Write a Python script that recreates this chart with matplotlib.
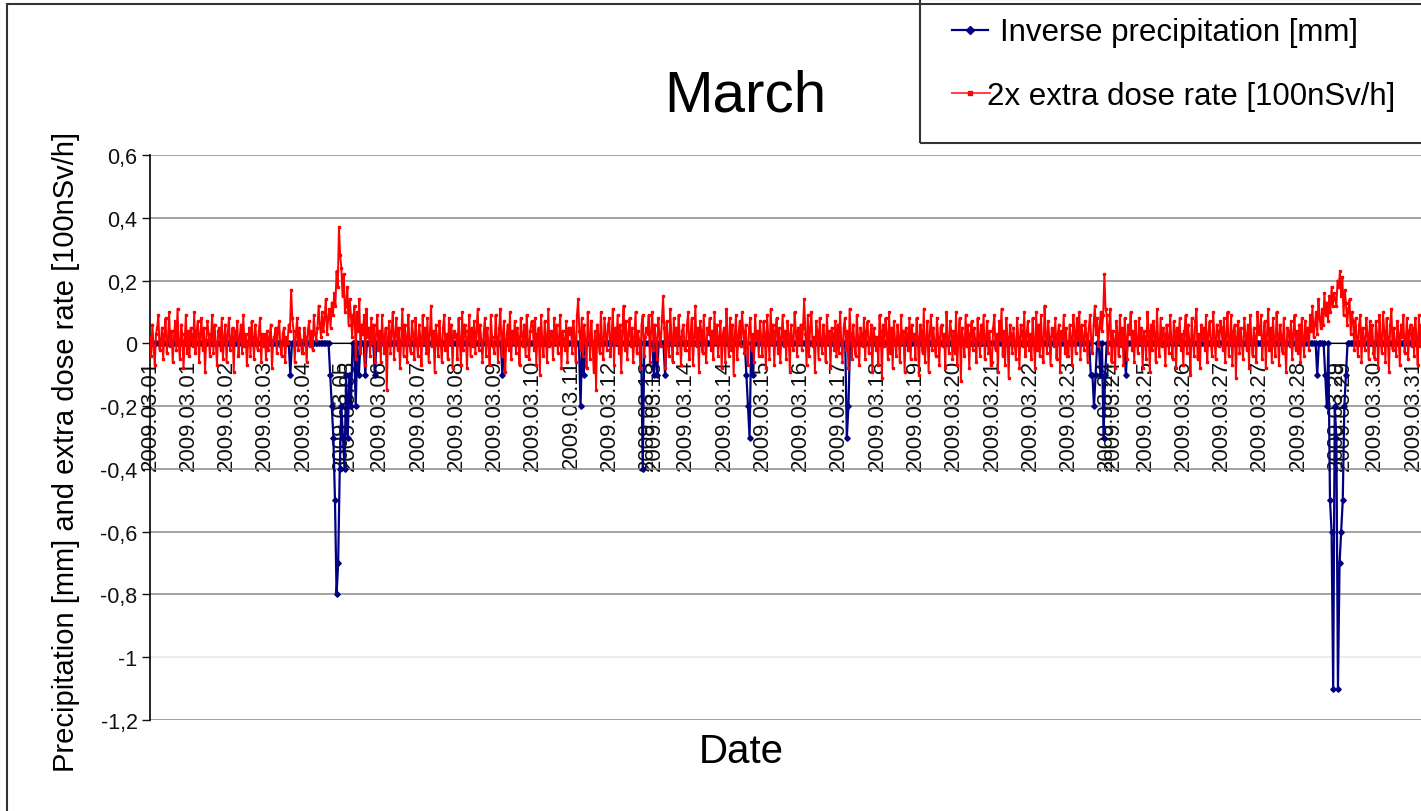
import numpy as np
import matplotlib.pyplot as plt
from matplotlib.patches import Rectangle
from matplotlib.lines import Line2D
from matplotlib.ticker import FuncFormatter

plt.rcParams['font.family'] = ['Liberation Sans', 'DejaVu Sans']

W, H = 1421, 812

# category labels on the x axis (one every 24 h of precipitation data)
date_labels = ["2009.03.01", "2009.03.01", "2009.03.02", "2009.03.03", "2009.03.04",
               "2009.03.05", "2009.03.06", "2009.03.07", "2009.03.08", "2009.03.09",
               "2009.03.10", "2009.03.11", "2009.03.12", "2009.03.13", "2009.03.14",
               "2009.03.14", "2009.03.15", "2009.03.16", "2009.03.17", "2009.03.18",
               "2009.03.19", "2009.03.20", "2009.03.21", "2009.03.22", "2009.03.23",
               "2009.03.24", "2009.03.25", "2009.03.26", "2009.03.27", "2009.03.27",
               "2009.03.28", "2009.03.29", "2009.03.30", "2009.03.31"]
# labels that show up twice, slightly shifted
double_labels = [5, 13, 25, 31]

# 2x extra dose rate, hundredths of 100nSv/h, one row per label slot
dose_rate_cents = [
    [2, -4, 6, -1, -7, 3, 5, 9, -2, 0, 5, -5, 3, 8, -3, 1, 10, -1, 4, -6, 2, 7, -2, 11, 0, -5, 6, 3, -8, 1, 9, -3],
    [4, -4, 5, 2, -1, 10, -3, 4, 7, -6, 3, 8, -2, 5, -9, 1, 7, 3, -4, 2, 9, -3, 6, 0, -7, 4, 5, -2, 8, -5, 2, 6],
    [-6, 3, 8, -2, 1, 5, -9, 4, 1, 7, -4, 2, 6, -3, 9, -1, 3, -7, 0, 5, -4, 7, 2, -5, 6, 1, -2, 4, 8, -6, 3, -1],
    [3, -5, 4, -2, 2, 6, -8, 1, 2, 5, -3, 4, 7, -1, -4, 3, 5, -6, 2, 0, 6, 4, 17, 8, 4, -6, 3, 8, -2, 5, 1, -3],
    [-3, 5, 2, -6, 4, 7, -1, 4, -2, 9, 3, 1, 5, 12, 6, 2, 10, 4, 8, 14, 3, 8, 11, 5, 13, 9, 16, 12, 23, 18, 37, 28],
    [24, 15, 22, 10, 12, 18, 6, 14, 9, 2, 8, 12, -5, 10, 4, 14, -3, 6, 3, 9, -7, 11, 2, 5, -4, 8, 0, 6, -6, 3, 9, -2],
    [4, -6, 9, 1, -3, 5, -15, 2, 7, -3, 4, 10, -5, 3, 8, -2, 5, -8, 1, 11, -4, 6, 2, -6, 9, 0, -3, 7, 3, -5, 8, 1],
    [-4, 6, 2, -7, 9, 0, 5, -3, 8, -6, 3, 12, -1, 4, -9, 6, 2, -4, 7, 1, -6, 5, 9, -2, 3, -5, 8, 0, 6, -8, 4, 2],
    [3, -5, 8, 1, -7, 10, -2, 6, 4, -8, 2, 9, -4, 5, -1, 7, -3, 4, 11, -2, 6, 1, -6, 3, 8, -4, 5, 0, -7, 9, 2, -1],
    [-3, 9, 2, -6, 5, 11, -4, 3, 7, -9, 1, 6, -2, 10, -5, 4, 0, 7, -3, 5, 2, -7, 8, 3, -1, 6, -4, 9, 1, -5, 4, 7],
    [6, -2, 8, -7, 3, 5, -10, 9, 1, -4, 7, 2, -6, 11, -1, 4, 3, -5, 8, 0, 6, -3, 2, 9, -8, 4, 1, -2, 7, -6, 5, 3],
    [5, -3, 7, 2, -6, 9, 14, 4, -2, 8, -4, 6, 1, -8, 10, 3, -5, 7, 0, -9, 4, -15, 6, 2, -3, 10, 1, -5, 8, 3, -2, 6],
    [8, -4, 2, 11, -7, 5, 0, 9, -3, 6, -9, 4, 12, -2, 7, -5, 3, 8, -1, 5, -6, 2, 10, -3, 4, 1, -8, 6, 9, -4, 2, 5],
    [3, 9, -6, 4, 10, -2, 6, 1, -5, 8, 3, -1, 7, 15, 5, -8, 7, 1, -4, 11, 2, -6, 8, 0, 5, -3, 9, 2, -7, 4, 6, -2],
    [-2, 6, 10, -5, 3, 8, -7, 2, 12, -1, 5, -9, 7, 4, -3, 9, 1, -6, 5, 3, 8, -2, 4, -5, 10, 0, 6, -4, 2, 7, -8, 3],
    [5, -6, 11, 1, -4, 8, -2, 6, -10, 3, 9, -5, 2, 7, -1, 10, 4, -3, 6, 0, -7, 5, 8, -2, 3, -6, 9, 1, 4, -4, 7, 2],
    [-4, 7, 3, -8, 9, 2, -5, 11, 0, 6, -7, 4, 8, -3, 5, -6, 2, 9, -1, 4, -5, 7, 3, -9, 6, 1, -2, 10, 4, -4, 5, 0],
    [6, -2, 5, 14, 3, -7, 9, -4, 5, 10, -1, 2, -9, 7, 4, -5, 8, 1, -3, 6, 2, -6, 9, 0, 4, -8, 5, 3, -2, 7, -4, 6],
    [-3, 10, 1, -6, 5, 8, -2, 4, -8, 11, 3, -5, 6, 0, -4, 9, 2, -7, 5, 3, -1, 8, -5, 4, 7, -3, 1, 6, -9, 5, 2, -2],
    [2, -7, 9, 4, -11, 6, -1, 8, 3, -5, 10, -3, 5, -8, 7, 1, -4, 6, 2, -6, 9, 0, 4, -9, 5, 3, -2, 8, -5, 6, 1, 3],
    [-5, 8, 2, -10, 6, 4, -3, 11, -6, 1, 7, -9, 3, 9, -2, 5, 0, -4, 8, 2, -7, 5, 6, -1, 3, -8, 10, 1, -3, 7, 4, -5],
    [4, -3, 10, -7, 2, 8, -12, 5, 1, -4, 9, -1, 6, -8, 3, 7, -2, 5, 1, -6, 8, 3, -4, 6, 0, 9, -5, 2, 7, -3, 4, -7],
    [-6, 5, 9, -2, 3, -9, 7, 1, 11, -4, 4, -7, 8, 2, -11, 6, 3, -3, 5, 0, -5, 8, 2, -8, 6, 4, -1, 10, -4, 3, 7, -2],
    [3, -5, 8, 1, -8, 10, -2, 6, -4, 9, 0, -6, 12, 3, -3, 7, 2, -7, 5, 4, -1, 8, -5, 3, 6, -9, 4, 1, 9, -3, 5, -4],
    [-4, 6, 2, -7, 9, 4, -3, 8, 1, 10, -5, 6, 2, -2, 7, 3, -6, 5, 9, 1, -3, 6, 12, 3, 8, -1, 5, 10, 4, 9, 22, 11],
    [9, -3, 6, 11, -6, 4, 1, -8, 7, 3, -4, 9, -1, 5, -7, 8, 2, -5, 6, 3, 10, -2, 4, -6, 7, 1, -3, 8, 0, 5, -8, 4],
    [2, -5, 10, 4, -9, 6, -2, 7, 3, -6, 11, 0, -4, 8, -1, 5, 3, -7, 6, 2, -3, 9, 1, -5, 7, 4, -8, 5, 0, 8, -2, 3],
    [-7, 4, 9, -3, 6, 1, -10, 8, 2, -4, 7, 11, -5, 3, -8, 6, 1, 5, -2, 9, -6, 3, 7, 0, -4, 10, 2, -5, 6, 4, -1, 7],
    [5, -2, 8, -6, 3, 10, -4, 1, 9, -7, 4, 6, -11, 2, 7, -3, 5, 0, -5, 8, 3, -2, 6, -8, 9, 1, -4, 5, 2, -6, 10, 3],
    [4, 9, -5, 2, 7, -8, 3, 11, -2, 5, -6, 8, 1, -4, 10, 3, -7, 6, 2, -3, 8, 0, -9, 5, 4, -1, 7, -5, 3, 9, -2, 4],
    [-3, 6, -6, 8, 2, -4, 7, 1, 5, -2, 9, 4, 12, 2, 6, 10, 3, 14, 8, 5, 11, 6, 16, 9, 13, 7, 15, 10, 18, 12, 16, 14],
    [12, 20, 18, 23, 15, 21, 9, 17, 13, 6, 11, 14, 3, 10, 7, -2, 8, 2, -4, 6, 9, -6, 5, 1, -2, 8, 3, -5, 7, 0, 6, -3],
    [-5, 7, 3, -8, 9, 1, -3, 10, 4, -6, 8, 2, -9, 6, 11, -2, 5, 0, -4, 7, 3, -7, 6, 2, 9, -3, 1, 8, -5, 4, 6, -1],
    [5, -4, 8, 2, -7, 9, -1, 6, 3, -5, 10, 0, -3, 7, -6, 4, 2, 8, -2, 5, -8, 3, 6, -4, 9, 1, -3, 5, 7, -6, 2, 4],
]

# hourly precipitation [mm]: hours (from start) with rain and the amount
rain_hours = [88, 113, 114, 115, 116, 117, 118, 119, 120, 121, 122, 123, 124, 125, 126,
              129, 131, 135, 141, 221, 270, 272, 309, 316, 318, 323,
              374, 375, 376, 378, 437, 438,
              590, 591, 592, 593, 596, 598, 599, 612,
              732, 737, 738, 740, 741, 742, 743, 744, 745, 746, 747, 748, 749, 750]
rain_mm = [0.1, 0.1, 0.2, 0.3, 0.5, 0.8, 0.7, 0.4, 0.2, 0.3, 0.4, 0.1, 0.3, 0.1, 0.2,
           0.2, 0.1, 0.1, 0.1, 0.1, 0.2, 0.1, 0.4, 0.1, 0.1, 0.1,
           0.1, 0.2, 0.3, 0.1, 0.3, 0.2,
           0.1, 0.1, 0.2, 0.1, 0.1, 0.3, 0.1, 0.1,
           0.1, 0.1, 0.2, 0.5, 0.6, 1.1, 0.2, 0.3, 1.1, 0.7, 0.6, 0.5, 0.2, 0.1]

x_dose, dose = [], []
for k, row in enumerate(dose_rate_cents):
    for i, v in enumerate(row):
        x_dose.append(k + i / len(row))
        dose.append(v / 100.0)

n_hours = len(date_labels) * 24
precip = np.zeros(n_hours)
precip[rain_hours] = rain_mm
x_precip = np.arange(n_hours) / 24.0

fig = plt.figure(figsize=(W / 100, H / 100), dpi=100)

# axes placed in pixels: left 150, top 156, bottom 721, runs past the right edge
ax_left, ax_top, ax_bot = 150, 156, 721
px_per_slot = 38.27
xmax = 34.0
ax = fig.add_axes([ax_left / W, 1 - ax_bot / H,
                   xmax * px_per_slot / W, (ax_bot - ax_top) / H])

ax.plot(x_precip, -precip, color='#000080', lw=1.6, marker='D', ms=2.8, zorder=2)
ax.plot(x_dose, dose, color='#ff0000', lw=1.4, marker='s', ms=2.0, zorder=3)

ax.set_xlim(0, xmax)
ax.set_ylim(-1.2, 0.6)

# category axis crosses at 0 (set before ticks: set_position resets them)
ax.spines['bottom'].set_position(('data', 0))
ax.spines['bottom'].set_color('black')
ax.spines['top'].set_visible(False)
ax.spines['right'].set_visible(False)
ax.spines['left'].set_color('black')
ax.spines['left'].set_linewidth(1.2)

yt = [0.6, 0.4, 0.2, 0, -0.2, -0.4, -0.6, -0.8, -1.0, -1.2]
ax.set_yticks(yt)
ax.yaxis.set_major_formatter(FuncFormatter(lambda v, p: ('%g' % round(v, 1)).replace('.', ',')))
ax.tick_params(axis='y', labelsize=15.5, length=6, width=1, direction='out',
               colors='#111111', pad=3)
ax.yaxis.grid(True, color='#8a8a8a', lw=1.1, zorder=0)
ax.set_axisbelow(True)
for line, v in zip(ax.get_ygridlines(), yt):
    if abs(v + 1.0) < 1e-9:
        line.set_color('#e8e8e8')

tick_pos = list(range(len(date_labels))) + [k + 0.18 for k in double_labels]
tick_txt = date_labels + [date_labels[k] for k in double_labels]
ax.set_xticks(tick_pos)
ax.set_xticklabels(tick_txt, rotation=90, fontsize=16, va='top', ha='center')
ax.tick_params(axis='x', length=0, pad=11, colors='#111111')

# text outside the plot
fig.text(745 / W, 1 - 97 / H, "March", fontsize=42, ha='center', va='center')
fig.text(741 / W, 1 - 752 / H, "Date", fontsize=29, ha='center', va='center')
fig.text(66 / W, 1 - 452 / H, "Precipitation [mm] and extra dose rate [100nSv/h]",
         fontsize=21, rotation=90, ha='center', va='center')

# outer frame and legend box
fig.add_artist(Rectangle((7 / W, -0.1), 1.2, 1.1 - 5 / H, transform=fig.transFigure,
                         fill=False, edgecolor='#333333', lw=1.5))
fig.add_artist(Rectangle((920 / W, 1 - 144 / H), 0.5, 144 / H, transform=fig.transFigure,
                         fill=False, edgecolor='#333333', lw=1.5))
fig.add_artist(Line2D([952 / W, 988 / W], [1 - 31 / H, 1 - 31 / H], transform=fig.transFigure,
                      color='#000080', lw=1.6))
fig.add_artist(Line2D([970 / W], [1 - 31 / H], transform=fig.transFigure,
                      color='#000080', marker='D', ms=4))
fig.add_artist(Line2D([952 / W, 990 / W], [1 - 94 / H, 1 - 94 / H], transform=fig.transFigure,
                      color='#ff4040', lw=1.4))
fig.add_artist(Line2D([970 / W], [1 - 94 / H], transform=fig.transFigure,
                      color='#ff0000', marker='s', ms=2.5))
fig.text(1000 / W, 1 - 33 / H, "Inverse precipitation [mm]", fontsize=22.5,
         ha='left', va='center')
fig.text(987 / W, 1 - 97 / H, "2x extra dose rate [100nSv/h]", fontsize=22.5,
         ha='left', va='center')

fig.savefig("out.png", dpi=100)
